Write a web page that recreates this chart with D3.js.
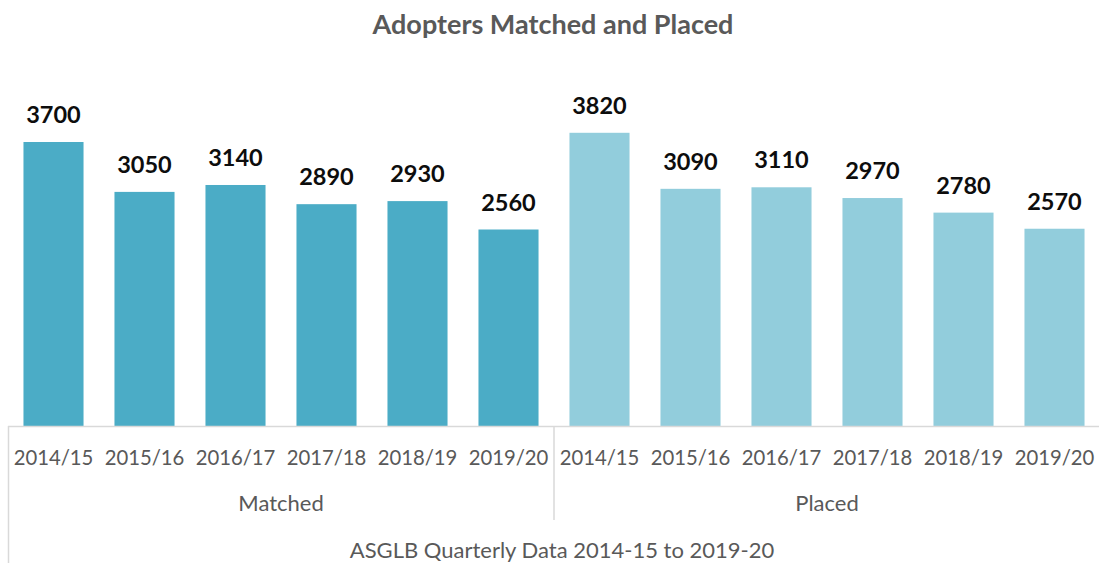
<!DOCTYPE html>
<html><head><meta charset="utf-8">
<script src="https://cdn.jsdelivr.net/npm/d3@7/dist/d3.min.js"></script>
<style>body{margin:0;background:#fff}svg{display:block}</style>
</head><body><svg id="c" width="1099" height="563"></svg>
<script>
const years = ["2014/15","2015/16","2016/17","2017/18","2018/19","2019/20"];
const groups = ["Matched","Placed"];
const matched = [3700,3050,3140,2890,2930,2560];
const placed = [3820,3090,3110,2970,2780,2570];
const colors = ["#4bacc6","#92cddc"];
const title = "Adopters Matched and Placed";
const axisTitle = "ASGLB Quarterly Data 2014-15 to 2019-20";

const rows = [];
[matched, placed].forEach((vals, gi) => vals.forEach((v, i) => rows.push({key: groups[gi]+"|"+years[i], year: years[i], group: gi, value: v})));

const svg = d3.select("#c");
const font = "Lato, 'Open Sans', sans-serif";
const left = 8, right = 1100, base = 426;
const x = d3.scaleBand().domain(rows.map(d=>d.key)).range([left,right]).paddingInner(0.34).paddingOuter(0.17);
const y = d3.scaleLinear().domain([0,4500]).range([base, 80.6]);

svg.append("text").attr("x",553).attr("y",34).attr("text-anchor","middle")
  .attr("font-family",font).attr("font-weight","bold").attr("font-size",27).attr("fill","#595959").text(title);

svg.selectAll("rect.bar").data(rows).join("rect").attr("class","bar")
  .attr("x",d=>x(d.key)).attr("width",x.bandwidth())
  .attr("y",d=>y(d.value)).attr("height",d=>base-y(d.value))
  .attr("fill",d=>colors[d.group]);

svg.selectAll("text.val").data(rows).join("text").attr("class","val")
  .attr("x",d=>x(d.key)+x.bandwidth()/2).attr("y",d=>y(d.value)-19)
  .attr("text-anchor","middle").attr("font-family",font).attr("font-weight","bold")
  .attr("font-size",23.5).attr("fill","#0d0d0d").text(d=>d.value);

// axis lines
const lc = "#d9d9d9";
svg.append("line").attr("x1",left).attr("x2",right).attr("y1",base+0.5).attr("y2",base+0.5).attr("stroke",lc).attr("stroke-width",1.5);
const step = x.step();
const groupW = step*years.length;
svg.append("line").attr("x1",left+0.5).attr("x2",left+0.5).attr("y1",base).attr("y2",563).attr("stroke",lc).attr("stroke-width",1.5);
groups.forEach((g,gi)=>{
  const gx = left + groupW*(gi+1);
  svg.append("line").attr("x1",gx).attr("x2",gx).attr("y1",base).attr("y2",520).attr("stroke",lc).attr("stroke-width",1.5);
  svg.append("text").attr("x",left+groupW*gi+groupW/2).attr("y",511).attr("text-anchor","middle")
    .attr("font-family",font).attr("font-size",22).attr("fill","#595959").text(g);
});

svg.selectAll("text.tick").data(rows).join("text").attr("class","tick")
  .attr("x",d=>x(d.key)+x.bandwidth()/2).attr("y",465).attr("text-anchor","middle")
  .attr("font-family",font).attr("font-size",20.3).attr("fill","#595959").text(d=>d.year);

svg.append("text").attr("x",562).attr("y",558).attr("text-anchor","middle")
  .attr("font-family",font).attr("font-size",22).attr("fill","#595959").text(axisTitle);
</script></body></html>
